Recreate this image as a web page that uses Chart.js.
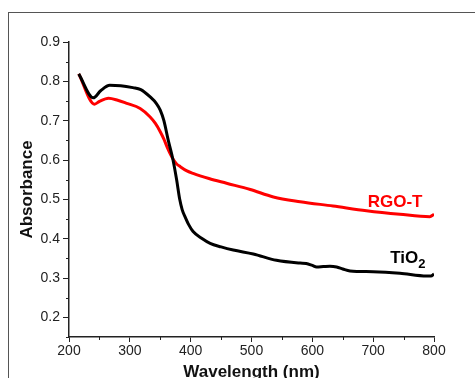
<!DOCTYPE html>
<html>
<head>
<meta charset="utf-8">
<script src="https://cdn.jsdelivr.net/npm/chart.js@4"></script>
<style>
  body { margin: 0; background: #fff; }
  #wrap { position: relative; width: 475px; height: 378px; }
</style>
</head>
<body>
<div id="wrap"><canvas id="myChart" width="475" height="378"></canvas></div>
<script>
// data ---------------------------------------------------------------

const tio2Wl  = [216, 240, 252, 267, 285, 305, 318, 333, 344, 350, 356, 363, 371, 377, 382, 386, 391, 397, 404, 418, 432, 450, 470, 503, 541, 580, 590, 600, 607, 618, 629, 640, 650, 662, 700, 744, 788, 795, 800];
const tio2Abs = [0.819, 0.758, 0.776, 0.790, 0.789, 0.784, 0.779, 0.761, 0.743, 0.727, 0.700, 0.651, 0.600, 0.549, 0.500, 0.474, 0.455, 0.435, 0.418, 0.401, 0.388, 0.379, 0.371, 0.361, 0.345, 0.338, 0.337, 0.332, 0.328, 0.329, 0.330, 0.328, 0.323, 0.318, 0.316, 0.312, 0.305, 0.305, 0.310];

const rgoWl  = [216, 242, 250, 265, 280, 295, 317, 333, 342, 350, 356, 361, 366, 372, 377, 383, 393, 404, 430, 459, 498, 536, 580, 634, 689, 744, 793, 800];
const rgoAbs = [0.819, 0.742, 0.749, 0.757, 0.752, 0.744, 0.731, 0.710, 0.693, 0.672, 0.653, 0.634, 0.617, 0.600, 0.590, 0.583, 0.573, 0.566, 0.553, 0.541, 0.525, 0.506, 0.494, 0.483, 0.471, 0.462, 0.456, 0.462];

const xTicks = [200, 300, 400, 500, 600, 700, 800];
const yTicks = [0.2, 0.3, 0.4, 0.5, 0.6, 0.7, 0.8, 0.9];
const xMinor = [250, 350, 450, 550, 650, 750];
const yMinor = [0.15, 0.25, 0.35, 0.45, 0.55, 0.65, 0.75, 0.85];

const curveLabels = [
  { text: 'RGO-T', x: 691, y: 0.481, color: '#ff0000' },
  { text: 'TiO', sub: '2', x: 728, y: 0.338, color: '#000000' }
];

// helpers ------------------------------------------------------------

function toPoints(xs, ys) {
  return xs.map((x, i) => ({ x: x, y: ys[i] }));
}

const AXIS_COLOR = '#222';
const FONT = "'Liberation Sans', Arial, sans-serif";

// frame around the figure, minor ticks, curve names
const extras = {
  id: 'extras',
  beforeDraw(chart) {
    const c = chart.ctx;
    c.save();
    c.strokeStyle = '#555';
    c.lineWidth = 1;
    c.strokeRect(8.5, 12.5, 520, 420);
    c.restore();
  },
  afterDraw(chart) {
    const c = chart.ctx;
    const xs = chart.scales.x;
    const ys = chart.scales.y;
    const area = chart.chartArea;
    c.save();
    c.strokeStyle = AXIS_COLOR;
    c.lineWidth = 1;
    xMinor.forEach(v => {
      const px = Math.round(xs.getPixelForValue(v)) + 0.5;
      c.beginPath();
      c.moveTo(px, area.bottom);
      c.lineTo(px, area.bottom + 3);
      c.stroke();
    });
    yMinor.forEach(v => {
      const py = Math.round(ys.getPixelForValue(v)) + 0.5;
      c.beginPath();
      c.moveTo(area.left, py);
      c.lineTo(area.left - 3, py);
      c.stroke();
    });

    curveLabels.forEach(l => {
      const px = xs.getPixelForValue(l.x);
      const py = ys.getPixelForValue(l.y);
      c.fillStyle = l.color;
      c.textBaseline = 'alphabetic';
      c.textAlign = 'left';
      c.font = 'bold 17px ' + FONT;
      c.fillText(l.text, px, py);
      if (l.sub) {
        const w = c.measureText(l.text).width;
        c.font = 'bold 13px ' + FONT;
        c.fillText(l.sub, px + w, py + 5);
      }
    });
    c.restore();
  }
};

// chart --------------------------------------------------------------

const ctx = document.getElementById('myChart');

new Chart(ctx, {
  type: 'line',
  data: {
    datasets: [
      {
        label: 'TiO2',
        data: toPoints(tio2Wl, tio2Abs),
        borderColor: '#000000',
        borderWidth: 3,
        pointRadius: 0,
        tension: 0.4,
        cubicInterpolationMode: 'monotone',
        fill: false
      },
      {
        label: 'RGO-T',
        data: toPoints(rgoWl, rgoAbs),
        borderColor: '#ff0000',
        borderWidth: 3,
        pointRadius: 0,
        tension: 0.4,
        cubicInterpolationMode: 'monotone',
        fill: false
      }
    ]
  },
  options: {
    responsive: false,
    animation: false,
    layout: { padding: { left: 0, top: 42, right: 41, bottom: 0 } },
    plugins: {
      legend: { display: false },
      tooltip: { enabled: false }
    },
    scales: {
      x: {
        type: 'linear',
        min: 200,
        max: 800,
        afterBuildTicks: s => { s.ticks = xTicks.map(v => ({ value: v })); },
        afterFit: s => { s.height = 41; },
        grid: { drawOnChartArea: false, tickLength: 5, tickColor: AXIS_COLOR, tickWidth: 1 },
        border: { color: AXIS_COLOR, width: 1.5 },
        ticks: { color: '#222', font: { family: FONT, size: 14 }, padding: 1, maxRotation: 0 },
        title: {
          display: true,
          text: 'Wavelength (nm)',
          color: '#111',
          font: { family: FONT, size: 17, weight: 'bold', lineHeight: 0.7 },
          padding: { top: 0, bottom: 0 }
        }
      },
      y: {
        type: 'linear',
        min: 0.15,
        max: 0.9,
        afterBuildTicks: s => { s.ticks = yTicks.map(v => ({ value: v })); },
        afterFit: s => { s.width = 69; },
        grid: { drawOnChartArea: false, tickLength: 6, tickColor: AXIS_COLOR, tickWidth: 1 },
        border: { color: AXIS_COLOR, width: 1.5 },
        ticks: {
          color: '#222',
          font: { family: FONT, size: 14 },
          padding: 3,
          callback: v => v.toFixed(1)
        },
        title: {
          display: true,
          text: 'Absorbance',
          color: '#111',
          font: { family: FONT, size: 17, weight: 'bold' },
          padding: { top: 17, bottom: 0 }
        }
      }
    }
  },
  plugins: [extras]
});
</script>
</body>
</html>
